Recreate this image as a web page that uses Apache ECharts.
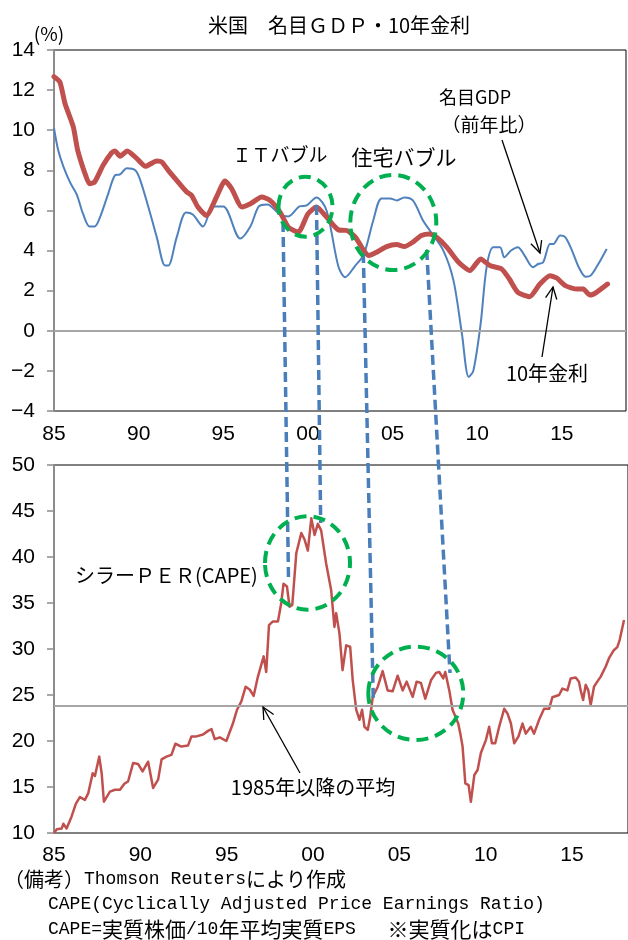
<!DOCTYPE html>
<html><head><meta charset="utf-8">
<script src="https://cdn.jsdelivr.net/npm/echarts@6/dist/echarts.min.js"></script>
<style>html,body{margin:0;padding:0;background:#fff}#c{width:628px;height:940px}</style>
</head><body><div id="c"></div>
<script>
// ---- data ----
const xTickYears = [1985, 1990, 1995, 2000, 2005, 2010, 2015];
const xTickLabels = ['85', '90', '95', '00', '05', '10', '15'];

const gdpYears = [1985.0,1985.25,1985.55,1985.95,1986.34,1986.73,1987.1,1987.4,1987.72,1988.2,1988.6,1988.9,1989.3,1989.8,1990.1,1990.7,1991.07,1991.56,1991.75,1992.25,1992.8,1993.2,1993.8,1994.4,1995.0,1996.0,1996.6,1997.1,1997.6,1998.35,1998.84,1999.5,1999.93,2000.5,2001.1,2001.8,2002.2,2002.8,2003.3,2003.86,2004.35,2004.85,2005.25,2005.7,2006.2,2006.8,2007.2,2008.0,2008.6,2009.1,2009.5,2009.77,2010.2,2010.56,2010.95,2011.35,2011.6,2012.0,2012.4,2012.8,2013.3,2013.6,2013.9,2014.3,2014.5,2014.9,2015.2,2015.6,2016.0,2016.4,2016.7,2017.1,2017.65];
const gdpValues = [10.1,9.0,8.2,7.4,6.8,5.8,5.2,5.2,5.67,6.83,7.75,7.8,8.1,8.0,7.5,5.8,4.67,3.25,3.25,4.67,5.9,5.8,5.2,6.2,6.2,4.6,5.2,6.2,6.3,5.8,5.7,6.2,6.25,6.65,6.0,3.2,2.67,3.25,3.8,5.5,6.6,6.6,6.5,6.65,6.5,5.5,5.0,4.0,2.5,-0.17,-2.3,-2.0,0.33,3.2,4.17,4.17,3.67,4.0,4.17,3.75,3.17,3.33,3.42,4.33,4.33,4.75,4.67,4.0,3.17,2.7,2.75,3.25,4.08];

const rateYears = [1985.0,1985.35,1985.65,1986.14,1986.4,1986.9,1987.1,1987.4,1987.9,1988.4,1988.6,1988.9,1989.33,1989.9,1990.4,1991.07,1991.36,1991.75,1992.25,1992.84,1993.13,1993.5,1994.0,1994.6,1995.1,1995.5,1996.1,1996.6,1997.27,1997.76,1998.35,1998.84,1999.43,2000.0,2000.5,2001.1,2001.8,2002.3,2002.8,2003.3,2003.6,2004.06,2004.65,2005.24,2005.7,2006.2,2006.7,2007.2,2007.6,2008.2,2008.9,2009.57,2010.2,2010.75,2011.44,2011.9,2012.4,2013.1,2013.7,2014.3,2014.7,2015.2,2015.9,2016.26,2016.66,2017.05,2017.7];
const rateValues = [12.67,12.4,11.33,10.17,9.0,7.67,7.33,7.42,8.25,8.87,8.97,8.7,8.97,8.58,8.2,8.47,8.42,8.0,7.5,6.92,6.75,6.17,5.75,6.67,7.47,7.08,6.17,6.33,6.67,6.5,5.92,5.17,4.92,5.83,6.17,5.67,5.03,5.0,4.67,4.0,3.75,3.92,4.2,4.3,4.2,4.42,4.75,4.83,4.67,4.17,3.42,3.0,3.58,3.25,3.08,2.58,1.92,1.7,2.33,2.75,2.63,2.25,2.08,2.08,1.78,1.92,2.33];

const capeYears = [1985.00,1985.16,1985.45,1985.54,1985.73,1986.02,1986.27,1986.50,1986.79,1986.98,1987.24,1987.37,1987.62,1987.76,1987.89,1988.24,1988.53,1988.82,1989.10,1989.29,1989.58,1989.87,1990.13,1990.45,1990.74,1991.03,1991.23,1991.51,1991.80,1992.03,1992.38,1992.76,1992.96,1993.25,1993.63,1993.92,1994.12,1994.31,1994.60,1994.98,1995.36,1995.60,1995.85,1996.10,1996.33,1996.56,1996.81,1997.14,1997.29,1997.45,1997.68,1997.97,1998.16,1998.29,1998.49,1998.64,1998.80,1999.03,1999.32,1999.51,1999.70,1999.90,2000.09,2000.28,2000.47,2000.76,2001.05,2001.24,2001.34,2001.53,2001.71,2001.92,2002.15,2002.30,2002.50,2002.69,2002.84,2002.98,2003.17,2003.31,2003.46,2003.75,2004.03,2004.32,2004.61,2004.90,2005.19,2005.42,2005.77,2006.00,2006.25,2006.50,2006.83,2007.12,2007.31,2007.54,2007.66,2007.89,2008.08,2008.41,2008.53,2008.66,2008.82,2009.01,2009.14,2009.34,2009.53,2009.72,2010.01,2010.20,2010.36,2010.55,2010.78,2011.07,2011.26,2011.46,2011.65,2011.90,2012.13,2012.32,2012.61,2012.80,2013.09,2013.38,2013.67,2013.86,2014.25,2014.44,2014.73,2014.92,2015.21,2015.40,2015.50,2015.64,2015.79,2015.94,2016.08,2016.27,2016.46,2016.66,2016.95,2017.14,2017.43,2017.62,2017.76,2018.01];
const capeValues = [10.0,10.4,10.5,11.0,10.5,11.8,13.2,13.9,13.6,14.3,16.5,16.2,18.3,16.5,13.4,14.5,14.7,14.7,15.4,15.6,17.6,17.5,16.7,17.75,14.9,15.8,18.0,18.3,18.5,19.7,19.4,19.5,20.5,20.5,20.7,21.1,21.3,20.2,20.4,20.0,21.9,23.4,24.3,25.9,25.6,24.9,27.0,29.2,27.5,32.6,33.0,33.0,35.0,37.1,36.8,34.6,34.8,40.4,42.6,41.9,40.7,44.2,42.4,43.6,42.9,39.3,36.4,32.4,33.9,31.7,27.7,30.4,30.25,26.6,23.4,22.3,23.4,21.55,21.2,22.6,24.8,25.9,27.6,25.5,25.4,27.1,25.5,26.45,24.8,26.45,26.3,24.6,26.6,27.4,27.5,26.8,27.5,25.5,23.4,21.9,20.8,19.4,15.4,15.2,13.4,16.3,16.85,18.7,20.1,21.55,19.75,19.75,21.55,23.5,23.0,21.9,19.75,20.5,21.9,20.8,21.55,20.8,22.3,23.5,23.5,24.75,25.0,25.7,25.5,26.8,26.9,26.45,25.5,24.45,26.1,25.5,23.9,25.9,26.45,27.0,28.1,29.0,29.9,30.2,31.0,33.15];
const capeAverage = 23.8;

// ---- chart ----
const numFont = "'Liberation Sans Narrow','Liberation Sans',Arial,sans-serif";
const jpFont = "'Noto Sans CJK JP','Noto Sans',sans-serif";
const monoFont = "'Liberation Mono','DejaVu Sans Mono',monospace";
const RED = '#c0504d', BLUE = '#4f81bd', GREEN = '#00b050', DBLUE = '#4a7ebb', GRAY = '#8c8c8c';

function pairs(xs, ys) { return xs.map((x, i) => [x, ys[i]]); }
function xLabel(v) { const i = xTickYears.indexOf(Math.round(v)); return (Math.abs(v - Math.round(v)) < 1e-6 && i >= 0) ? xTickLabels[i] : ''; }
function yLabel(v) { return String(v).replace('-', '\u2212'); }

function arrow(x1, y1, x2, y2) {
  const a = Math.atan2(y2 - y1, x2 - x1), L = 13, t = 0.45;
  return [
    { type: 'line', z: 100, shape: { x1, y1, x2, y2 }, style: { stroke: '#000', lineWidth: 1.3 } },
    { type: 'polyline', z: 100, shape: { points: [[x2 - L * Math.cos(a - t), y2 - L * Math.sin(a - t)], [x2, y2], [x2 - L * Math.cos(a + t), y2 - L * Math.sin(a + t)]] }, style: { stroke: '#000', lineWidth: 1.3, fill: null } }
  ];
}
function circle(cx, cy, rx, ry) {
  return { type: 'ellipse', z: 90, shape: { cx, cy, rx, ry }, style: { fill: null, stroke: GREEN, lineWidth: 4, lineDash: [12, 7] } };
}
function dline(x1, y1, x2, y2) {
  return { type: 'line', z: 80, shape: { x1, y1, x2, y2 }, style: { stroke: DBLUE, lineWidth: 3.5, lineDash: [10, 5] } };
}
function txt(x, y, text, size, align, font) {
  return { type: 'text', z: 110, x, y, style: { text, fontSize: size, fontFamily: font || jpFont, fill: '#000', align: align || 'center', verticalAlign: 'middle' } };
}
function note(x, y, text) {
  return { type: 'text', z: 110, x, y, style: { text, fill: '#000', align: 'left', verticalAlign: 'middle',
    rich: { m: { fontFamily: monoFont, fontSize: 18, fill: '#000' },
            j: { fontFamily: jpFont, fontSize: 21, fill: '#000' },
            k: { fontFamily: jpFont, fontSize: 20, fill: '#000' } } } };
}

const axisLabelStyle = { fontFamily: numFont, fontSize: 21, color: '#000' };

const chart = echarts.init(document.getElementById('c'), null, { renderer: 'canvas' });
chart.setOption({
  animation: false,
  backgroundColor: '#fff',
  grid: [
    { left: 54, top: 50, width: 572, height: 361, show: true, borderColor: '#000', borderWidth: 1 },
    { left: 54, top: 465, width: 575, height: 368, show: true, borderColor: '#000', borderWidth: 1 }
  ],
  xAxis: [
    { type: 'value', gridIndex: 0, min: 1985, max: 2018.79, interval: 5, axisLine: { show: false }, axisTick: { show: false }, splitLine: { show: false },
      axisLabel: Object.assign({ formatter: xLabel, margin: 13, showMaxLabel: false }, axisLabelStyle) },
    { type: 'value', gridIndex: 1, min: 1985, max: 2018.24, interval: 5, axisLine: { show: false }, axisTick: { show: false }, splitLine: { show: false },
      axisLabel: Object.assign({ formatter: xLabel, margin: 12, showMaxLabel: false }, axisLabelStyle) }
  ],
  yAxis: [
    { type: 'value', gridIndex: 0, min: -4, max: 14, interval: 2, splitLine: { show: false },
      axisLine: { show: true, lineStyle: { color: GRAY, width: 2 } }, axisTick: { show: true, length: 7, lineStyle: { color: GRAY, width: 1.5 } },
      axisLabel: Object.assign({ formatter: yLabel, margin: 19 }, axisLabelStyle) },
    { type: 'value', gridIndex: 1, min: 10, max: 50, interval: 5, splitLine: { show: false },
      axisLine: { show: true, lineStyle: { color: GRAY, width: 2 } }, axisTick: { show: true, length: 7, lineStyle: { color: GRAY, width: 1.5 } },
      axisLabel: Object.assign({ margin: 19 }, axisLabelStyle) }
  ],
  series: [
    { name: '名目GDP', type: 'line', xAxisIndex: 0, yAxisIndex: 0, data: pairs(gdpYears, gdpValues), showSymbol: false, smooth: 0.3,
      lineStyle: { color: BLUE, width: 2 }, z: 2,
      markLine: { silent: true, symbol: 'none', label: { show: false }, lineStyle: { color: '#a6a6a6', type: 'solid', width: 2 }, data: [{ yAxis: 0 }] } },
    { name: '10年金利', type: 'line', xAxisIndex: 0, yAxisIndex: 0, data: pairs(rateYears, rateValues), showSymbol: false, smooth: 0.2,
      lineStyle: { color: RED, width: 5, join: 'round', cap: 'round' }, z: 3 },
    { name: 'CAPE', type: 'line', xAxisIndex: 1, yAxisIndex: 1, data: pairs(capeYears, capeValues), showSymbol: false,
      lineStyle: { color: RED, width: 2.5, join: 'round' }, z: 3,
      markLine: { silent: true, symbol: 'none', label: { show: false }, lineStyle: { color: '#a6a6a6', type: 'solid', width: 2 }, data: [{ yAxis: capeAverage }] } }
  ],
  graphic: [
    txt(339, 25, '米国　名目ＧＤＰ・10年金利', 20),
    txt(49, 34, '(%)', 19),
    txt(280, 155, 'ＩＴバブル', 19),
    txt(404, 157, '住宅バブル', 21),
    txt(475, 97, '名目GDP', 18),
    txt(489, 125, '（前年比）', 19),
    txt(547, 373, '10年金利', 20),
    txt(75, 575, 'シラーＰＥＲ(CAPE)', 20, 'left'),
    txt(313, 787, '1985年以降の平均', 20),
    dline(283, 222, 288.5, 578),
    dline(316.5, 205, 320.7, 523),
    dline(363.3, 253, 373.3, 700),
    dline(426.7, 250, 450, 673),
    circle(305.5, 206.7, 27, 30),
    circle(393.3, 222.5, 43, 47.5),
    circle(307.5, 563, 42.5, 46.7),
    circle(415.8, 693.3, 47.5, 46.7),
    ...arrow(502, 140, 540, 253),
    ...arrow(542, 357, 553, 287),
    ...arrow(300, 773, 263, 707),
    note(4, 879, '{k|（備考）}{m|Thomson Reuters}{k|により作成}'),
    note(48, 904, '{m|CAPE(Cyclically Adjusted Price Earnings Ratio)}'),
    note(48, 929, '{m|CAPE=}{j|実質株価}{m|/10}{j|年平均実質}{m|EPS}{j|　}{m| }{j|※実質化は}{m|CPI}')
  ]
});
</script></body></html>
